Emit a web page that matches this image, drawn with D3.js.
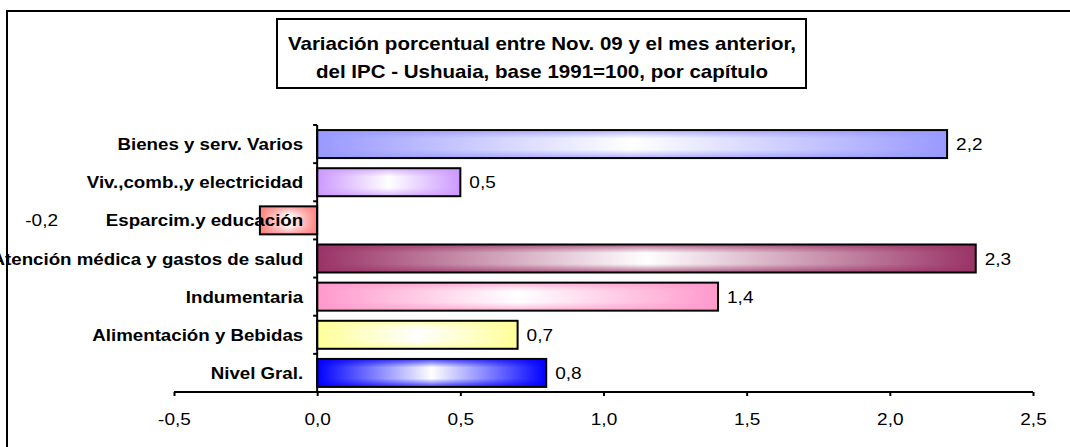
<!DOCTYPE html>
<html>
<head>
<meta charset="utf-8">
<script src="https://cdn.jsdelivr.net/npm/d3@7"></script>
<style>
html,body{margin:0;padding:0;background:#fff;}
svg{display:block;font-family:"Liberation Sans",Arial,sans-serif;}
</style>
</head>
<body>
<svg id="chart" width="1070" height="447"></svg>
<script>
const categories = ["Bienes y serv. Varios","Viv.,comb.,y electricidad","Esparcim.y educación","Atención médica y gastos de salud","Indumentaria","Alimentación y Bebidas","Nivel Gral."];
const values = [2.2, 0.5, -0.2, 2.3, 1.4, 0.7, 0.8];
const colors = ["#9999FF","#CC99FF","#FF8080","#993366","#FF99CC","#FFFF99","#0000FF"];
const xTicks = [-0.5, 0, 0.5, 1.0, 1.5, 2.0, 2.5];
const titleLines = ["Variación porcentual entre Nov. 09 y el mes anterior,","del IPC - Ushuaia, base 1991=100, por capítulo"];

const svg = d3.select("#chart");
const fmt = v => d3.format(".1f")(v).replace(".", ",").replace("−","-");
const SX = 1.12;

// outer frame
svg.append("rect").attr("x",7).attr("y",11).attr("width",1100).attr("height",500)
  .attr("fill","none").attr("stroke","#000").attr("stroke-width",2);

// title box
svg.append("rect").attr("x",277).attr("y",19).attr("width",529).attr("height",69)
  .attr("fill","#fff").attr("stroke","#000").attr("stroke-width",2);
svg.append("g").selectAll("text").data(titleLines).join("text")
  .attr("transform",(d,i)=>`translate(542,${50+i*28}) scale(1.14,1)`).attr("text-anchor","middle")
  .attr("font-weight","bold").attr("font-size",18).text(d=>d);

const x = d3.scaleLinear().domain([-0.5,2.5]).range([174,1033]);
const y = d3.scaleBand().domain(categories).range([125,392]).paddingInner(0.266).paddingOuter(0.133);
const step = y.step();

// gradients
const defs = svg.append("defs");
colors.forEach((c,i)=>{
  const h = defs.append("linearGradient").attr("id","h"+i).attr("x1",0).attr("x2",1).attr("y1",0).attr("y2",0);
  h.append("stop").attr("offset","0%").attr("stop-color",c);
  h.append("stop").attr("offset","50%").attr("stop-color","#fff");
  h.append("stop").attr("offset","100%").attr("stop-color",c);
  const v = defs.append("linearGradient").attr("id","v"+i).attr("x1",0).attr("x2",0).attr("y1",0).attr("y2",1);
  v.append("stop").attr("offset","0%").attr("stop-color",c).attr("stop-opacity",0.75);
  v.append("stop").attr("offset","30%").attr("stop-color",c).attr("stop-opacity",0);
  v.append("stop").attr("offset","70%").attr("stop-color",c).attr("stop-opacity",0);
  v.append("stop").attr("offset","100%").attr("stop-color",c).attr("stop-opacity",0.75);
});

const bars = svg.append("g").selectAll("g").data(categories).join("g");
bars.append("rect")
  .attr("x",(d,i)=>x(Math.min(0,values[i]))).attr("y",d=>y(d))
  .attr("width",(d,i)=>Math.abs(x(values[i])-x(0))).attr("height",y.bandwidth())
  .attr("fill",(d,i)=>"url(#h"+i+")");
bars.append("rect")
  .attr("x",(d,i)=>x(Math.min(0,values[i]))).attr("y",d=>y(d))
  .attr("width",(d,i)=>Math.abs(x(values[i])-x(0))).attr("height",y.bandwidth())
  .attr("fill",(d,i)=>"url(#v"+i+")").attr("stroke","#000").attr("stroke-width",2);

// y axis line and ticks
const yAxisG = svg.append("g");
yAxisG.append("line").attr("x1",x(0)).attr("x2",x(0)).attr("y1",125).attr("y2",392)
  .attr("stroke","#000").attr("stroke-width",2);
yAxisG.selectAll("line.t").data(d3.range(categories.length+1)).join("line").attr("class","t")
  .attr("x1",x(0)-4).attr("x2",x(0)).attr("y1",i=>125+i*step).attr("y2",i=>125+i*step)
  .attr("stroke","#000").attr("stroke-width",2);

// category labels
svg.append("g").selectAll("text").data(categories).join("text")
  .attr("transform",d=>`translate(${x(0)-14},${y(d)+y.bandwidth()/2+6}) scale(1.1,1)`).attr("text-anchor","end")
  .attr("font-weight","bold").attr("font-size",17).attr("fill","#000").text(d=>d);

// x axis
const xAxis = d3.axisBottom(x).tickValues(xTicks).tickSize(4).tickSizeOuter(0).tickPadding(17).tickFormat(fmt);
const xg = svg.append("g").attr("transform","translate(0,392)").call(xAxis);
xg.select(".domain").attr("stroke","#000").attr("stroke-width",2).attr("d","M174,0H1033");
xg.selectAll(".tick line").attr("stroke","#000").attr("stroke-width",2);
xg.selectAll(".tick text").attr("font-size",17).attr("fill","#000").attr("font-family","Liberation Sans, Arial, sans-serif")
  .attr("transform",`scale(${SX},1)`).attr("x",0);

// value labels
svg.append("g").selectAll("text").data(categories).join("text")
  .attr("transform",(d,i)=>`translate(${values[i]>=0 ? x(values[i])+9 : x(-0.5)-116},${y(d)+y.bandwidth()/2+6}) scale(${SX},1)`)
  .attr("text-anchor",(d,i)=>values[i]>=0?"start":"end")
  .attr("font-size",17).attr("fill","#000").text((d,i)=>fmt(values[i]));
</script>
</body>
</html>
